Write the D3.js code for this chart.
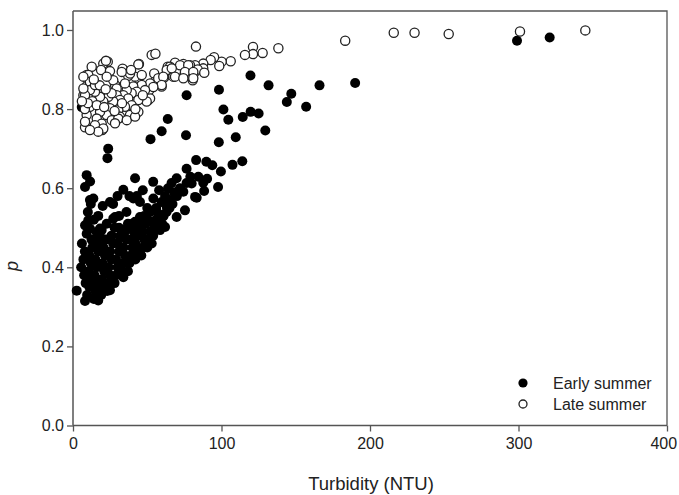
<!DOCTYPE html>
<html>
<head>
<meta charset="utf-8">
<script src="https://cdn.jsdelivr.net/npm/d3@7"></script>
<style>
  html, body { margin: 0; padding: 0; background: #fff; }
  svg { display: block; font-family: "Liberation Sans", Arial, Helvetica, sans-serif; }
</style>
</head>
<body>
<svg id="chart" width="679" height="495"></svg>
<script>
// Turbidity (NTU) vs p, early summer samples
const earlySummer = [
  [321,0.981],[299,0.973],[190,0.866],[166,0.860],[147,0.839],[144,0.818],[157,0.806],
  [119.5,0.885],[131.7,0.860],[98.3,0.849],[101.3,0.799],[104.6,0.773],[114.3,0.780],[119.6,0.793],
  [125,0.789],[129.5,0.746],[109.6,0.729],[98.2,0.716],[76.5,0.835],[63.8,0.775],[59.7,0.744],
  [52.2,0.724],[76.1,0.734],
  [114,0.668],[107.4,0.659],[99.6,0.642],[97.7,0.603],[88.3,0.593],[83.3,0.576],[82.9,0.671],
  [89.8,0.667],[93.8,0.658],[84.4,0.629],[90.3,0.624],[87.7,0.614],[79.9,0.612],[76.5,0.649],
  [79,0.629],[76.5,0.613],[74.3,0.591],[82.2,0.578],[75.4,0.544],[69.8,0.527],[66.4,0.613],
  [69.8,0.625],[63.1,0.553],
  [23.7,0.700],[23.2,0.676],
  [9.2,0.633],[11.5,0.617],[8.1,0.603],[41.8,0.625],[54,0.616],[33.9,0.596],[11.4,0.570],
  [13.7,0.574],[24.9,0.565],[40.6,0.574],[45.1,0.565],[54.1,0.574],[59.7,0.565],[65.3,0.570],
  [10.3,0.519],[11.4,0.498],[8.1,0.506],[18.2,0.498],[22.7,0.510],[27.1,0.523],[33.9,0.494],
  [38.4,0.502],[41.8,0.515],[45.1,0.527],[46.3,0.506],[50.7,0.519],[54.1,0.511],[58.6,0.515],
  [62,0.502],[57.4,0.536],[51.9,0.540],[24.9,0.473],[31.6,0.477],[28.3,0.527],[19.3,0.494],
  [15.9,0.489],
  [5.9,0.805],[9,0.800],
  [2.5,0.341],
  [6,0.46],[9.2,0.485],[8,0.44],[7,0.42],[5.5,0.40],[7.5,0.38],[8.5,0.36],[8.1,0.315],[9.5,0.33],
  [11,0.35],[12,0.37],[10.5,0.39],[12,0.41],[11,0.43],[13,0.45],[12.5,0.47],
  [14,0.32],[15,0.34],[16,0.36],[14.5,0.38],[16,0.40],[15,0.42],[17,0.44],[16.5,0.46],[18,0.48],
  [17,0.316],[19,0.33],[20,0.35],[19.5,0.37],[21,0.39],[20,0.41],[21.5,0.43],[20.5,0.45],[22,0.47],
  [23,0.34],[24.9,0.342],[24,0.36],[25,0.38],[24,0.40],[26,0.42],[25,0.44],[27,0.46],[26,0.48],
  [28,0.50],[28,0.36],[29,0.38],[30,0.40],[29,0.42],[31,0.44],[30,0.46],[32,0.48],[31,0.50],
  [33.9,0.375],[33,0.39],[34,0.41],[35,0.43],[34,0.45],[36,0.47],[35,0.49],[37,0.51],
  [37,0.39],[38,0.41],[39,0.43],[40,0.45],[39,0.47],[41,0.49],[40,0.51],
  [42,0.42],[43,0.44],[42,0.46],[44,0.48],[43,0.50],[45,0.52],
  [46,0.43],[47,0.45],[48,0.47],[47,0.49],[49,0.51],[48,0.53],
  [50,0.45],[51,0.47],[52,0.49],[53,0.46],[54,0.48],[55,0.50],[56,0.52],[58.6,0.494],[60,0.51],
  [61,0.53],[63,0.54],[65,0.55],[67,0.56],[70,0.58],[72,0.60],[68,0.59],[62,0.58],[56,0.55],
  [50,0.55],[36,0.54],[31,0.53],[17,0.53],[14,0.52],[10,0.54],[12,0.56],[20,0.555],[27,0.56],
  [43,0.58],[47,0.595],[58,0.595],[64,0.60],[38,0.58],[30,0.58]
];

// Turbidity (NTU) vs p, late summer samples
const lateSummer = [
  [345,0.999],[301,0.996],[253,0.990],[230,0.993],[216,0.993],[183.3,0.973],[138.3,0.954],
  [121.2,0.957],[121.2,0.939],[115.8,0.937],[127.7,0.942],[106.2,0.921],[100.1,0.920],[98.5,0.909],
  [95,0.931],[92.7,0.924],[87.7,0.915],[87.7,0.903],[82.8,0.958],[82.2,0.911],[82.2,0.894],
  [80.6,0.873],[53,0.937],[55.5,0.940],[78.8,0.911],[74.3,0.914],[68.7,0.917],[63.8,0.907],
  [67.5,0.882],[75,0.886],[80.3,0.880],[84,0.900],[88.4,0.892],[61.3,0.880],[54.7,0.862],
  [50.7,0.823],[45.1,0.858],[44.4,0.914],[41.8,0.882],[54.7,0.890],[47.3,0.856],[51.4,0.848],
  [59.7,0.857],[55.2,0.869],[37.2,0.884],[33.9,0.899],[38.4,0.890],[32.8,0.856],[28.3,0.861],
  [23.4,0.920],[20.4,0.915],[12.6,0.907],[18.9,0.899],[33.4,0.902],[27.1,0.873],[9.2,0.886],
  [9.2,0.858],[7,0.835],[8.1,0.754],[19.7,0.747],[17,0.759],[31.2,0.778],[24.9,0.787],
  [22.2,0.922],[44,0.913],[39.1,0.899],[32.8,0.894],[24.9,0.896],[10.3,0.886],[11.4,0.869],
  [22.7,0.882],[46.3,0.886],[57.4,0.878],[65.3,0.907],[72.1,0.911],[77.6,0.911],[63.1,0.899],
  [66.5,0.903],[75.4,0.894],[81,0.894],[68.7,0.882],[74.3,0.878],[81,0.878],[60.8,0.882],
  [59.7,0.861],[51.9,0.865],[54.1,0.856],[46.3,0.861],[48.5,0.848],[40.6,0.857],[42.9,0.844],
  [39.5,0.840],[36.2,0.848],[33.9,0.835],[37.2,0.827],[29.4,0.852],[29.4,0.835],[31.6,0.823],
  [27.1,0.819],[51.9,0.827],[49.6,0.819],[44,0.823],[39.5,0.810],[23.8,0.831],[20.4,0.819],
  [18.2,0.831],[14.8,0.844],[11.4,0.848],[8.1,0.835],[7,0.852],[7,0.882],[14.8,0.861],
  [35,0.806],[30.5,0.797],[31.6,0.781],[24.9,0.802],[22.7,0.785],[26.1,0.772],[18.2,0.793],
  [16,0.776],[19.3,0.763],[14.8,0.759],[11.4,0.806],[9.2,0.785],[8.1,0.768],[20.4,0.751],
  [17,0.743],[11.4,0.747],[30.5,0.776],[28.3,0.764],[38.4,0.785],[36.2,0.772],[44,0.793],
  [41.8,0.781],
  [13,0.82],[16,0.81],[21,0.805],[26,0.84],[18,0.86],[14,0.875],[22,0.85],[35,0.865],[42,0.8],
  [47,0.835],[8,0.8],[10,0.815],[6,0.82],[33,0.815],[28,0.795]
];

const xTicks = [0, 100, 200, 300, 400];
const yTicks = [0.0, 0.2, 0.4, 0.6, 0.8, 1.0];
const seriesNames = ["Early summer", "Late summer"];
const xTitle = "Turbidity (NTU)";
const yTitle = "p";

const svg = d3.select("#chart");
const plotLeft = 73, plotRight = 667, plotTop = 11, plotBottom = 425.5;

const x = d3.scaleLinear().domain([0, 400]).range([plotLeft, plotRight]);
const y = d3.scaleLinear().domain([0, 1.048]).range([plotBottom, plotTop]);

const axisColor = "#555";
const textColor = "#222";

// frame (top and right edges)
svg.append("path")
  .attr("d", `M${plotLeft},${plotTop}H${plotRight}V${plotBottom}`)
  .attr("fill", "none").attr("stroke", axisColor).attr("stroke-width", 1.3);

// x axis
const gx = svg.append("g").attr("transform", `translate(0,${plotBottom})`)
  .call(d3.axisBottom(x).tickValues(xTicks).tickFormat(d3.format("d")).tickSize(6).tickSizeOuter(0).tickPadding(6));
// y axis
const gy = svg.append("g").attr("transform", `translate(${plotLeft},0)`)
  .call(d3.axisLeft(y).tickValues(yTicks).tickFormat(d3.format(".1f")).tickSize(6).tickSizeOuter(0).tickPadding(3));

[gx, gy].forEach(g => {
  g.select(".domain").attr("stroke", axisColor).attr("stroke-width", 1.5);
  g.selectAll(".tick line").attr("stroke", axisColor).attr("stroke-width", 1.3);
  g.selectAll(".tick text").attr("fill", textColor).style("font-size", "16px")
    .style("font-family", "'Liberation Sans', Arial, sans-serif");
});
gx.select(".domain").attr("d", `M${plotLeft},0H${plotRight}`);
gy.select(".domain").attr("d", `M0,${plotBottom}V${plotTop}`);
// keep the last x label inside the canvas edge
gx.selectAll(".tick text").filter(d => d === 400)
  .attr("text-anchor", "end").attr("dx", "0.6em");

// data points: filled first, open circles on top
svg.append("g").selectAll("circle").data(earlySummer).join("circle")
  .attr("cx", d => x(d[0])).attr("cy", d => y(d[1])).attr("r", 5)
  .attr("fill", "#000");

svg.append("g").selectAll("circle").data(lateSummer).join("circle")
  .attr("cx", d => x(d[0])).attr("cy", d => y(d[1])).attr("r", 4.6)
  .attr("fill", "#fff").attr("stroke", "#222").attr("stroke-width", 1.3);

// axis titles
svg.append("text").attr("x", (plotLeft + plotRight) / 2 + 1).attr("y", 490)
  .attr("text-anchor", "middle").attr("fill", textColor)
  .style("font-size", "18.5px").text(xTitle);
svg.append("text").attr("transform", `translate(18,266) rotate(-90)`)
  .attr("text-anchor", "middle").attr("fill", textColor)
  .style("font-size", "18px").style("font-style", "italic").text(yTitle);

// legend
const legend = svg.append("g");
seriesNames.forEach((name, i) => {
  const ly = 383 + i * 21;
  legend.append("circle").attr("cx", 523).attr("cy", ly).attr("r", i === 0 ? 4.6 : 4)
    .attr("fill", i === 0 ? "#000" : "#fff")
    .attr("stroke", i === 0 ? "none" : "#222").attr("stroke-width", 1.3);
  legend.append("text").attr("x", 553).attr("y", ly + 6)
    .attr("fill", textColor).style("font-size", "16px").text(name);
});
</script>
</body>
</html>
